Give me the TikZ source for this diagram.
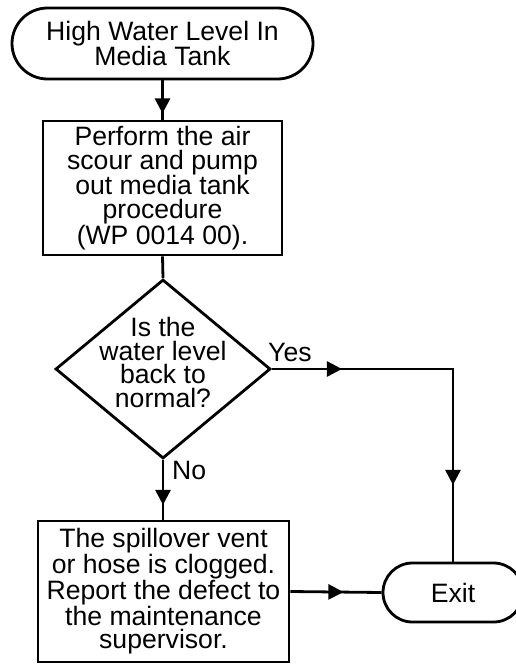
\documentclass[tikz,border=0pt]{standalone}
\usepackage{fontspec}
\setmainfont{Liberation Sans}
\usetikzlibrary{shapes.geometric,arrows.meta,decorations.markings}
\begin{document}
\begin{tikzpicture}[x=1pt,y=-1pt,
  every node/.style={font=\fontsize{26.6}{23.7}\selectfont, align=center, inner sep=0pt},
  term/.style={draw, line width=2.8pt, rounded corners=#1},
  procbox/.style={draw, line width=2.8pt},
  decbox/.style={draw, line width=2.8pt, shape=diamond, aspect=1.2},
  conn/.style={line width=2.8pt},
  tip/.style={postaction={decorate}, decoration={markings, mark=at position #1 with {\arrow{Triangle[length=15pt,width=15pt]}}}},
  tip2/.style 2 args={postaction={decorate}, decoration={markings,
     mark=at position #1 with {\arrow{Triangle[length=15pt,width=15pt]}},
     mark=at position #2 with {\arrow{Triangle[length=15pt,width=15pt]}}}},
  lbl/.style={font=\fontsize{26.6}{23.7}\selectfont}
]
\useasboundingbox (0,0) rectangle (515,664);
\node[term=35.5pt, minimum width=301pt, minimum height=71pt] (start) at (162.5,43.5) {High Water Level In\\Media Tank};
\node[procbox, minimum width=239pt, minimum height=134pt] (proc) at (162.5,188) {Perform the air\\scour and pump\\ out media tank\\procedure\\(WP 0014 00).};
\node[decbox, minimum width=215pt, minimum height=179pt] (dec) at (163,369) {};
\node (dectext) at (163,362.5) {Is the\\water level\\back to\\normal?};
\node[procbox, minimum width=251pt, minimum height=141pt] (rep) at (163.5,591.5) {The spillover vent\\or hose is clogged.\\Report the defect to\\the maintenance\\supervisor.};
\node[term=29.5pt, minimum width=140pt, minimum height=59pt] (exit) at (453,592.5) {Exit};
\node[lbl, anchor=west] (yes) at (268,352) {Yes};
\node[lbl, anchor=west] (no) at (172,470) {No};
\draw[conn, tip=33pt] (start.south) -- (proc.north);
\draw[conn] (proc.south) -- (dec.north);
\draw[conn, tip=45pt] (dec.south) -- (rep.north -| dec.south);
\draw[conn, tip2={70pt}{297pt}] (dec.east) -- (exit.north |- dec.east) -- (exit.north);
\draw[conn, tip=53pt] (rep.east) -- (exit.west);
\end{tikzpicture}
\end{document}
